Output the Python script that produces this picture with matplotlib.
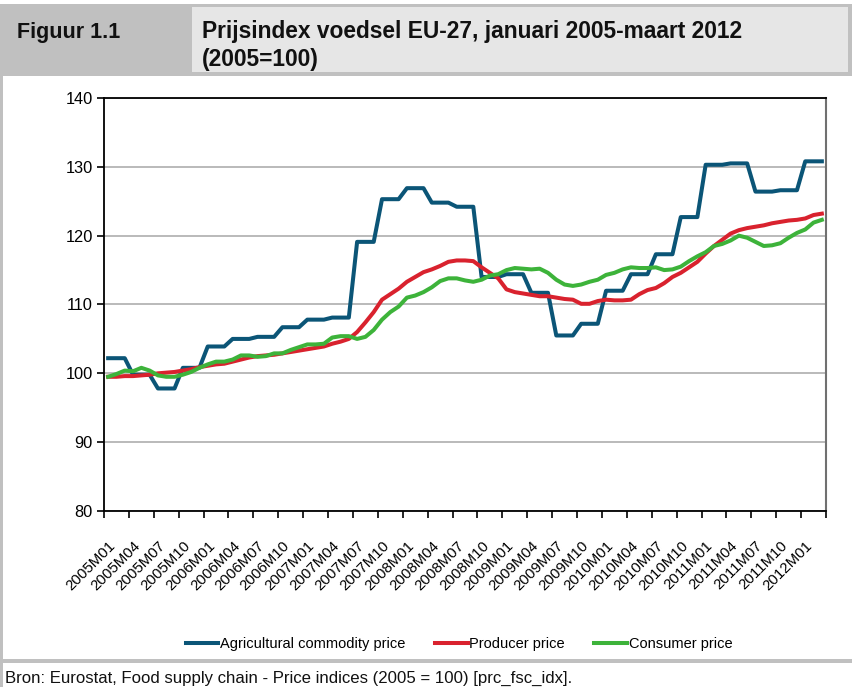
import matplotlib
matplotlib.use("Agg")
import matplotlib.pyplot as plt
from matplotlib.patches import Rectangle

# Prijsindex voedsel EU-27, jan 2005 - mrt 2012 (2005=100)

months = [f"{y}M{m:02d}" for y in range(2005, 2013) for m in range(1, 13)][:87]

agri = [102.2, 102.2, 102.2, 99.8, 99.8, 99.8, 97.8, 97.8, 97.8, 100.8,
        100.8, 100.8, 103.9, 103.9, 103.9, 105.0, 105.0, 105.0, 105.3, 105.3,
        105.3, 106.7, 106.7, 106.7, 107.8, 107.8, 107.8, 108.1, 108.1, 108.1,
        119.1, 119.1, 119.1, 125.3, 125.3, 125.3, 126.9, 126.9, 126.9, 124.8,
        124.8, 124.8, 124.2, 124.2, 124.2, 114.0, 114.0, 114.0, 114.4, 114.4,
        114.4, 111.7, 111.7, 111.7, 105.5, 105.5, 105.5, 107.2, 107.2, 107.2,
        112.0, 112.0, 112.0, 114.4, 114.4, 114.4, 117.3, 117.3, 117.3, 122.7,
        122.7, 122.7, 130.3, 130.3, 130.3, 130.5, 130.5, 130.5, 126.4, 126.4,
        126.4, 126.6, 126.6, 126.6, 130.8, 130.8, 130.8]

producer = [99.5, 99.5, 99.6, 99.6, 99.7, 99.8, 100.0, 100.1, 100.2, 100.4,
            100.6, 100.9, 101.1, 101.3, 101.4, 101.7, 102.0, 102.3, 102.5, 102.6,
            102.7, 102.9, 103.1, 103.3, 103.5, 103.7, 103.9, 104.3, 104.6, 105.0,
            106.0, 107.4, 108.9, 110.7, 111.5, 112.3, 113.3, 114.0, 114.7, 115.1,
            115.6, 116.2, 116.4, 116.4, 116.3, 115.4, 114.6, 113.8, 112.2, 111.8,
            111.6, 111.4, 111.2, 111.2, 111.0, 110.8, 110.7, 110.1, 110.1, 110.5,
            110.7, 110.6, 110.6, 110.7, 111.5, 112.1, 112.4, 113.1, 114.0, 114.6,
            115.4, 116.2, 117.4, 118.5, 119.4, 120.3, 120.8, 121.1, 121.3, 121.5,
            121.8, 122.0, 122.2, 122.3, 122.5, 123.0, 123.2]

consumer = [99.5, 99.9, 100.4, 100.3, 100.8, 100.4, 99.7, 99.5, 99.5, 99.8,
            100.2, 100.8, 101.3, 101.7, 101.7, 102.0, 102.6, 102.6, 102.4, 102.5,
            102.9, 102.9, 103.4, 103.8, 104.2, 104.2, 104.3, 105.2, 105.4, 105.4,
            105.0, 105.3, 106.3, 107.8, 108.9, 109.7, 111.0, 111.3, 111.8, 112.5,
            113.4, 113.8, 113.8, 113.5, 113.3, 113.6, 114.2, 114.4, 115.0, 115.3,
            115.2, 115.1, 115.2, 114.6, 113.6, 112.9, 112.7, 112.9, 113.3, 113.6,
            114.3, 114.6, 115.1, 115.4, 115.3, 115.3, 115.4, 115.0, 115.1, 115.5,
            116.3, 117.0, 117.6, 118.5, 118.8, 119.3, 120.0, 119.7, 119.1, 118.5,
            118.6, 118.9, 119.7, 120.4, 120.9, 121.9, 122.3]

W, H = 852, 687
plt.rcParams['font.family'] = ['Liberation Sans', 'DejaVu Sans']

fig = plt.figure(figsize=(W / 100, H / 100), dpi=100)


def box(x0, y0, x1, y1, color):
    # rectangle in pixel coords (y from top)
    fig.patches.append(Rectangle((x0 / W, 1 - y1 / H), (x1 - x0) / W, (y1 - y0) / H,
                                 transform=fig.transFigure, facecolor=color,
                                 edgecolor='none', zorder=0))


# header and frame
box(0, 4, 852, 76, '#c0c0c0')
box(192, 7, 848, 72, '#e6e6e6')
box(0, 76, 3, 687, '#c0c0c0')
box(0, 659, 852, 663, '#c0c0c0')

fig.text(17 / W, 1 - 38 / H, "Figuur 1.1", fontweight='bold',
         fontsize=15.5, va='baseline', ha='left', color='#111111')
fig.text(202 / W, 1 - 38 / H, "Prijsindex voedsel EU-27, januari 2005-maart 2012",
         fontweight='bold', fontsize=16.4, va='baseline', ha='left', color='#111111')
fig.text(202 / W, 1 - 66 / H, "(2005=100)", fontweight='bold',
         fontsize=16.4, va='baseline', ha='left', color='#111111')
fig.text(5 / W, 1 - 683 / H,
         "Bron: Eurostat, Food supply chain - Price indices (2005 = 100) [prc_fsc_idx].",
         fontsize=12.1, va='baseline', ha='left', color='#111111')

# plot area
ax = fig.add_axes([104 / W, 1 - 511 / H, (826 - 104) / W, (511 - 98) / H])
x = list(range(len(months)))

ax.plot(x, agri, color='#0b5577', linewidth=2.9, label='Agricultural commodity price',
        solid_joinstyle='round', zorder=3)
ax.plot(x, producer, color='#d9222e', linewidth=2.9, label='Producer price',
        solid_joinstyle='round', zorder=4)
ax.plot(x, consumer, color='#3db33a', linewidth=2.9, label='Consumer price',
        solid_joinstyle='round', zorder=5)

ax.set_xlim(-0.5, len(months) - 0.5)
ax.set_ylim(80, 140)
ax.set_yticks([80, 90, 100, 110, 120, 130, 140])
ax.yaxis.grid(True, color='#b4b4b4', linewidth=1.3)
ax.set_axisbelow(True)
ax.tick_params(axis='y', length=5, width=1.2, labelsize=11.8, pad=3, color='black')

# ticks between categories, labels on every third month
ax.set_xticks([i - 0.5 for i in range(0, len(months) + 1, 3)])
ax.set_xticklabels([])
ax.tick_params(axis='x', which='major', length=5, width=1.2)
ax.set_xticks(x[::3], minor=True)
ax.set_xticklabels(months[::3], minor=True, rotation=45, ha='right', va='top',
                   rotation_mode='anchor', fontsize=10.8)
ax.tick_params(axis='x', which='minor', length=0, pad=20)

for s in ['left', 'bottom', 'top']:
    ax.spines[s].set_color('black')
    ax.spines[s].set_linewidth(1.3)
ax.spines['right'].set_color('#707070')
ax.spines['right'].set_linewidth(1.5)

fig.legend(loc='center', bbox_to_anchor=(459 / W, 1 - 644 / H), ncol=3, frameon=False,
           fontsize=10.5, handlelength=2.25, handletextpad=0.12, columnspacing=2.0)

fig.savefig('out.png', dpi=100)
